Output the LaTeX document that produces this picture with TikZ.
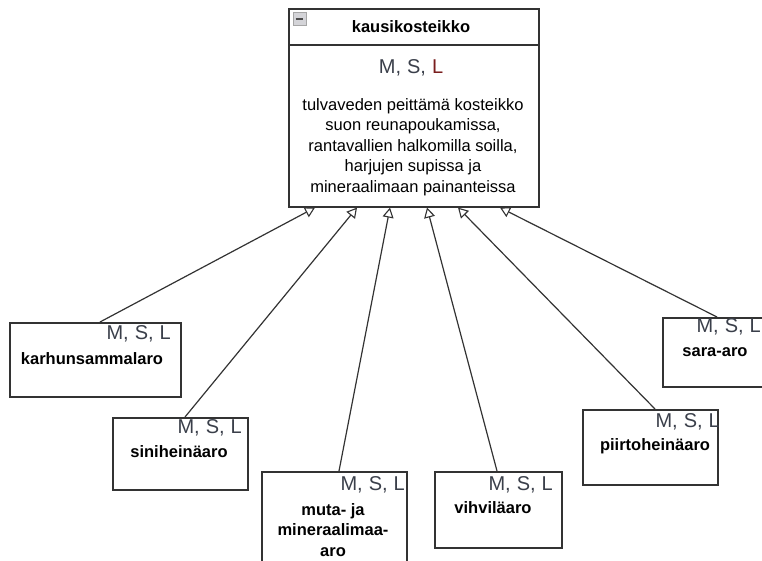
\documentclass[tikz,border=0pt]{standalone}
\usepackage{fontspec}
\setmainfont{Liberation Sans}
\usetikzlibrary{arrows.meta}
\definecolor{edge}{HTML}{333333}
\definecolor{msl}{HTML}{3A3F4A}
\definecolor{lred}{HTML}{7A1E1E}
\definecolor{iconfill}{HTML}{D4D4D8}
\tikzset{
  classbox/.style={draw=edge, line width=1.6pt, fill=white, inner sep=0pt, anchor=north west},
  title/.style={font=\fontsize{16.5}{20}\selectfont\bfseries, inner sep=0pt},
  body/.style={font=\fontsize{16.5}{20.5}\selectfont, align=center, inner sep=0pt},
  mslabel/.style={font=\fontsize{20}{22}\selectfont, text=msl, inner sep=0pt},
  inh/.style={draw=edge, line width=1.2pt, -{Triangle[open, length=10pt, width=11pt, line width=1.1pt]}}
}
\newcommand{\msltext}{M,\hspace{6pt}S,\hspace{6pt}L}
\begin{document}
\begin{tikzpicture}[x=1pt, y=-1pt]
\useasboundingbox (0,0) rectangle (762,560);

% parent class
\node[classbox, minimum width=250pt, minimum height=198pt] (top) at (288,8) {};
\draw[edge, line width=1.3pt] (top.west |- 0,45) -- (top.east |- 0,45);
\node[draw=gray!70, fill=iconfill, line width=0.5pt, minimum size=12.5pt, inner sep=0pt] (icon) at (299.5,18.5) {};
\draw[black!70, line width=2pt] (icon.west) ++(2.5,0) -- ++(7.5,0);
\node[title] (toptitle) at (411,27) {kausikosteikko};
\node[mslabel] (topmsl) at (411,68) {M,\hspace{6pt}S,\hspace{6pt}\textcolor{lred}{L}};
\node[body] (topbody) at (413,147) {tulvaveden peittämä kosteikko\\suon reunapoukamissa,\\rantavallien halkomilla soilla,\\harjujen supissa ja\\mineraalimaan painanteissa};

% subclasses
\node[classbox, minimum width=171pt, minimum height=74pt] (kar) at (9,322) {};
\node[mslabel, anchor=east] (karmsl) at (171,334) {\msltext};
\node[title] (karname) at (92,359) {karhunsammalaro};

\node[classbox, minimum width=135pt, minimum height=72pt] (sin) at (112,417) {};
\node[mslabel, anchor=east] (sinmsl) at (242,428) {\msltext};
\node[title] (sinname) at (179,452) {siniheinäaro};

\node[classbox, minimum width=145pt, minimum height=100pt] (mut) at (261,471) {};
\node[mslabel, anchor=east] (mutmsl) at (405,485) {\msltext};
\node[body, font=\fontsize{16.5}{20.5}\selectfont\bfseries] (mutname) at (333,530) {muta- ja\\mineraalimaa-\\aro};

\node[classbox, minimum width=127pt, minimum height=76pt] (vih) at (434,471) {};
\node[mslabel, anchor=east] (vihmsl) at (553,485) {\msltext};
\node[title] (vihname) at (493,508) {vihviläaro};

\node[classbox, minimum width=135pt, minimum height=75pt] (pii) at (582,409) {};
\node[mslabel, anchor=east] (piimsl) at (720,422) {\msltext};
\node[title] (piiname) at (655,446) {piirtoheinäaro};

\node[classbox, minimum width=110pt, minimum height=69pt] (sar) at (662,317) {};
\node[mslabel, anchor=east] (sarmsl) at (761,327) {\msltext};
\node[title] (sarname) at (715,352) {sara-aro};

% generalisation connectors
\draw[inh] (kar.north -| 100,0) -- (top.south -| 315,0);
\draw[inh] (sin.north -| 185,0) -- (top.south -| 357,0);
\draw[inh] (mut.north -| 339,0) -- (top.south -| 390,0);
\draw[inh] (vih.north -| 497,0) -- (top.south -| 427,0);
\draw[inh] (pii.north -| 655,0) -- (top.south -| 458,0);
\draw[inh] (sar.north -| 717,0) -- (top.south -| 500,0);
\end{tikzpicture}
\end{document}
